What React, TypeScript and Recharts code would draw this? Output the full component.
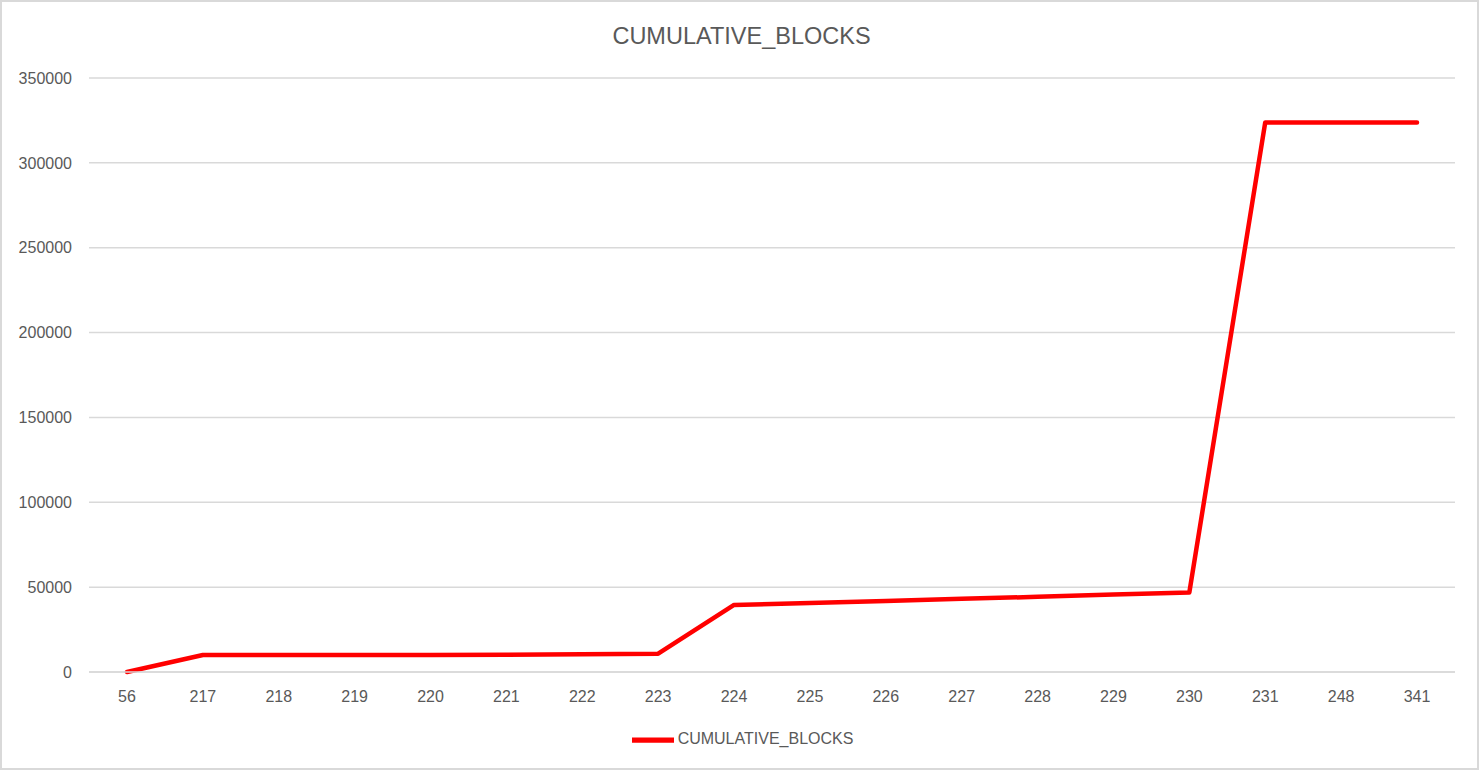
import React from 'react';
import { LineChart, Line, XAxis, YAxis, CartesianGrid, Legend } from 'recharts';

const categories = ['56', '217', '218', '219', '220', '221', '222', '223', '224', '225', '226', '227', '228', '229', '230', '231', '248', '341'];
const cumulativeBlocks = [0, 10000, 10000, 10000, 10000, 10100, 10500, 10800, 39500, 40700, 41900, 43100, 44300, 45600, 46900, 323800, 323800, 323800];
const yTicks = [0, 50000, 100000, 150000, 200000, 250000, 300000, 350000];
const seriesName = 'CUMULATIVE_BLOCKS';
const chartTitle = 'CUMULATIVE_BLOCKS';

const data = categories.map((c, i) => ({ cat: c, [seriesName]: cumulativeBlocks[i] }));

const FONT = "'Liberation Sans', Arial, sans-serif";
const TEXT = '#595959';

export default function App() {
  return (
    <div
      style={{
        position: 'absolute',
        left: 0,
        top: 0,
        width: 1479,
        height: 770,
        background: '#fff',
        border: '2px solid #d9d9d9',
        boxSizing: 'border-box',
        fontFamily: FONT,
      }}
    >
      <div
        style={{
          position: 'absolute',
          left: 0,
          top: 18,
          width: 1479,
          textAlign: 'center',
          fontSize: 23.5,
          color: TEXT,
          lineHeight: '32px',
        }}
      >
        {chartTitle}
      </div>
      <div style={{ position: 'absolute', left: -2, top: -2 }}>
        <LineChart width={1479} height={770} data={data} margin={{ top: 78, right: 24, bottom: 58, left: 0 }}>
          <CartesianGrid vertical={false} stroke="#d9d9d9" strokeWidth={1.5} />
          <XAxis
            dataKey="cat"
            axisLine={{ stroke: '#d9d9d9', strokeWidth: 1.5 }}
            tickLine={false}
            tickSize={0}
            tickMargin={19}
            padding={{ left: 38, right: 38 }}
            height={40}
            interval={0}
            tick={{ fill: TEXT, fontSize: 16, fontFamily: FONT }}
          />
          <YAxis
            width={89}
            domain={[0, 350000]}
            ticks={yTicks}
            axisLine={false}
            tickLine={false}
            tickSize={0}
            tickMargin={17}
            interval={0}
            tick={{ fill: TEXT, fontSize: 16, fontFamily: FONT }}
          />
          <Legend
            verticalAlign="middle"
            align="center"
            iconType="plainline"
            iconSize={42}
            wrapperStyle={{ top: 719, left: 8, width: 1479, fontSize: 16, fontFamily: FONT }}
            formatter={(v) => <span style={{ color: TEXT }}>{v}</span>}
          />
          <Line
            type="linear"
            dataKey={seriesName}
            stroke="#ff0000"
            strokeWidth={4.5}
            strokeLinecap="round"
            strokeLinejoin="round"
            dot={false}
            activeDot={false}
            isAnimationActive={false}
          />
        </LineChart>
      </div>
    </div>
  );
}
